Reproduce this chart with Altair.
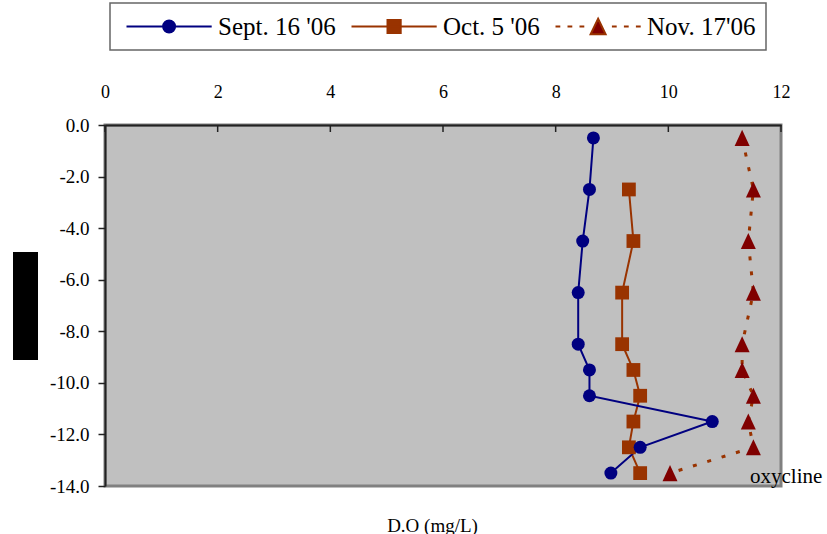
import altair as alt
import pandas as pd

# Dissolved oxygen profiles (mg/L) against depth (m) for three sampling dates
series_names = ["Sept. 16 '06", "Oct. 5 '06", "Nov. 17'06"]

sept_depth = [-0.5, -2.5, -4.5, -6.5, -8.5, -9.5, -10.5, -11.5, -12.5, -13.5]
sept_do = [8.67, 8.60, 8.48, 8.40, 8.40, 8.60, 8.60, 10.78, 9.50, 8.98]

oct_depth = [-2.5, -4.5, -6.5, -8.5, -9.5, -10.5, -11.5, -12.5, -13.5]
oct_do = [9.30, 9.38, 9.18, 9.18, 9.38, 9.50, 9.38, 9.30, 9.50]

nov_depth = [-0.5, -2.5, -4.5, -6.5, -8.5, -9.5, -10.5, -11.5, -12.5, -13.5]
nov_do = [11.31, 11.51, 11.42, 11.51, 11.31, 11.31, 11.51, 11.42, 11.51, 10.03]

x_ticks = [0, 2, 4, 6, 8, 10, 12]
y_ticks = [0, -2, -4, -6, -8, -10, -12, -14]

note_text = ["oxycline"]
note_x = [11.45]
note_y = [-13.88]

rows = []
for name, depths, values in [
    (series_names[0], sept_depth, sept_do),
    (series_names[1], oct_depth, oct_do),
    (series_names[2], nov_depth, nov_do),
]:
    for i, (d, v) in enumerate(zip(depths, values)):
        rows.append({"series": name, "depth": d, "do": v, "step": i})
df = pd.DataFrame(rows)

FONT = "Liberation Serif"
NAVY = "#000080"
RUST = "#993300"
MAROON = "#800000"

x_scale = alt.Scale(domain=[0, 12], nice=False, zero=False)
y_scale = alt.Scale(domain=[-14, 0], nice=False, zero=False)

x_axis = alt.Axis(
    orient="top", values=x_ticks, format="d", ticks=False, tickSize=0,
    labelPadding=24, labelFontSize=18, labelFont=FONT, labelColor="black",
    labelFlush=False,
    domainColor="#222222", domainWidth=2, grid=False,
    title="D.O (mg/L)", titleFont=FONT, titleFontSize=19, titleFontWeight="normal",
    titleColor="black", titleX=327, titleY=406, titleAlign="center",
    titleBaseline="alphabetic",
)
y_axis = alt.Axis(
    values=y_ticks, tickSize=7, tickColor="#222222", tickWidth=1.5,
    labelExpr="(datum.value < 0 ? '-' : '') + format(abs(datum.value), '.1f')",
    labelPadding=9, labelFontSize=19, labelFont=FONT, labelColor="black",
    labelFlush=False,
    domainColor="#222222", domainWidth=2, grid=False, title=None,
)

X = alt.X("do:Q", scale=x_scale, axis=x_axis)
Y = alt.Y("depth:Q", scale=y_scale, axis=y_axis)

# Legend symbols: a line segment with the series marker in its middle
sym_circle = "M-1,0H13.2M7.1,0A1,1,0,1,1,5.1,0A1,1,0,1,1,7.1,0Z"
sym_square = "M-1,0H13.2M5.0,-1.1H7.2V1.1H5.0Z"
sym_triangle = ("M-1,0H-0.2M1.0,0H1.8M3.0,0H3.8M8.4,0H9.2M10.4,0H11.2M12.4,0H13.2"
                "M6.1,-1.3L7.35,1.3H4.85Z")

legend = alt.Legend(
    title=None, orient="none", legendX=5, legendY=-122, direction="horizontal",
    padding=10, fillColor="white", strokeColor="#666666",
    labelFont=FONT, labelFontSize=25, labelColor="black", labelOffset=73,
    columnPadding=9, symbolSize=144, clipHeight=27, labelLimit=300,
    symbolType=alt.ExprRef(expr=f"datum.index === 0 ? '{sym_circle}' : datum.index === 1 ? '{sym_square}' : '{sym_triangle}'"),
    symbolStrokeColor=alt.ExprRef(expr=f"datum.index === 0 ? '{NAVY}' : '{RUST}'"),
    symbolStrokeWidth=2,
    symbolOpacity=1,
)

# Invisible layer that carries the colour scale and its legend
legend_layer = (
    alt.Chart(df)
    .mark_point(filled=True, opacity=0)
    .encode(
        x=X,
        y=Y,
        color=alt.Color(
            "series:N",
            scale=alt.Scale(domain=series_names, range=[NAVY, RUST, MAROON]),
            legend=legend,
        ),
    )
)

tri_path = "M0,-1.07L1,1.07L-1,1.07Z"


def profile_line(name, colour, width, dash=None):
    kwargs = {"strokeWidth": width, "color": colour}
    if dash:
        kwargs.update(strokeDash=dash, strokeCap="butt")
    return (
        alt.Chart(df)
        .transform_filter(alt.datum.series == name)
        .mark_line(**kwargs)
        .encode(x=X, y=Y, order="step:Q")
    )


def markers(name, shape, fill, size):
    return (
        alt.Chart(df)
        .transform_filter(alt.datum.series == name)
        .mark_point(shape=shape, filled=True, fill=fill, size=size, opacity=1, strokeWidth=0)
        .encode(x=X, y=Y)
    )


nov_line = profile_line(series_names[2], RUST, 3, [4, 11])
oct_line = profile_line(series_names[1], RUST, 2)
sept_line = profile_line(series_names[0], NAVY, 2)

nov_pts = markers(series_names[2], tri_path, MAROON, 225)
oct_pts = markers(series_names[1], "square", RUST, 190)
sept_pts = markers(series_names[0], "circle", NAVY, 169)

# Inward tick marks along the top edge
tick_df = pd.DataFrame({"do": x_ticks})
top_ticks = (
    alt.Chart(tick_df)
    .mark_rule(color="#222222", strokeWidth=1.5)
    .encode(x=X, y=alt.value(0), y2=alt.value(7))
)

note_df = pd.DataFrame({"label": note_text, "do": note_x, "depth": note_y})
note = (
    alt.Chart(note_df)
    .mark_text(font=FONT, fontSize=21, color="black", align="left", baseline="alphabetic")
    .encode(x=X, y=Y, text="label:N")
)

# Solid block left of the depth axis
block = (
    alt.Chart(pd.DataFrame({"k": [0]}))
    .mark_rect(color="black")
    .encode(x=alt.value(-92), x2=alt.value(-67), y=alt.value(127), y2=alt.value(235))
)

chart = (
    alt.layer(
        legend_layer, top_ticks, nov_line, oct_line, sept_line,
        nov_pts, oct_pts, sept_pts, note, block,
    )
    .properties(
        width=676,
        height=361,
        autosize=alt.AutoSizeParams(type="none"),
        padding={"left": 105, "top": 125, "right": 46, "bottom": 48},
        background="white",
    )
    .configure_view(fill="#C0C0C0", stroke="#808080", strokeWidth=3)
    .configure_legend(strokeWidth=1.5)
)

chart.save("out.html", embed_options={"renderer": "svg", "actions": False})
